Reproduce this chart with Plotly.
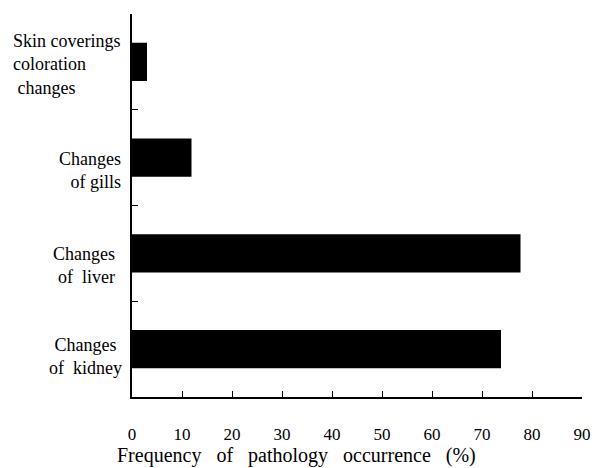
import plotly.graph_objects as go

categories = ["Skin coverings coloration changes", "Changes of gills",
              "Changes of liver", "Changes of kidney"]
label_text = ["Skin coverings<br>coloration<br>\u00a0changes",
              "Changes<br>of gills",
              "Changes<br>of\u00a0\u00a0liver",
              "Changes<br>of\u00a0\u00a0kidney"]
values = [3.0, 11.9, 77.7, 73.8]
x_ticks = [0, 10, 20, 30, 40, 50, 60, 70, 80, 90]
SP = "\u00a0\u00a0\u00a0"
x_title = SP.join(["Frequency", "of", "pathology", "occurrence", "(%)"])

FONT = "Liberation Serif"

fig = go.Figure(go.Bar(
    x=values, y=categories, orientation="h",
    marker=dict(color="black", line=dict(width=0)),
    width=0.4,
))

# per-label style: (align, xshift, yshift)
label_style = [("left", -9, -3), ("right", -9, -13),
               ("right", -15, -12), ("center", -8, -7)]
annotations = []
for cat, txt, (al, xs, ys) in zip(categories, label_text, label_style):
    annotations.append(dict(
        x=0, xref="paper", y=cat, yref="y", text=txt, showarrow=False,
        xanchor="right", yanchor="middle", align=al, xshift=xs, yshift=ys,
        font=dict(family=FONT, size=18, color="black"),
    ))

# x-axis title (offset to the left as in the original)
annotations.append(dict(
    x=0, xref="paper", y=0, yref="paper", text=x_title, showarrow=False,
    xanchor="left", yanchor="middle", xshift=-17, yshift=-58,
    font=dict(family=FONT, size=20, color="black"),
))

fig.update_layout(
    width=593, height=468,
    margin=dict(l=132, r=11, t=14, b=71, autoexpand=False),
    paper_bgcolor="white", plot_bgcolor="white",
    showlegend=False,
    font=dict(family=FONT, size=17, color="black"),
    annotations=annotations,
    xaxis=dict(
        range=[0, 90], tickvals=x_ticks, ticktext=[str(v) for v in x_ticks],
        showline=True, linecolor="black", linewidth=1.5,
        ticks="inside", ticklen=6, tickcolor="black", tickwidth=1,
        ticklabelstandoff=21, showgrid=False, zeroline=False,
        automargin=False,
        tickfont=dict(family=FONT, size=17, color="black"),
        fixedrange=True,
    ),
    yaxis=dict(
        type="category", autorange="reversed",
        showline=True, linecolor="black", linewidth=1.5,
        ticks="inside", ticklen=6, tickcolor="black", tickwidth=1,
        tickson="boundaries", showticklabels=False, showgrid=False,
        zeroline=False, fixedrange=True, automargin=False,
    ),
)

fig.write_html(
    "out.html",
    config={"displayModeBar": False},
    post_script="document.body.style.margin='0';document.body.style.padding='0';",
)
